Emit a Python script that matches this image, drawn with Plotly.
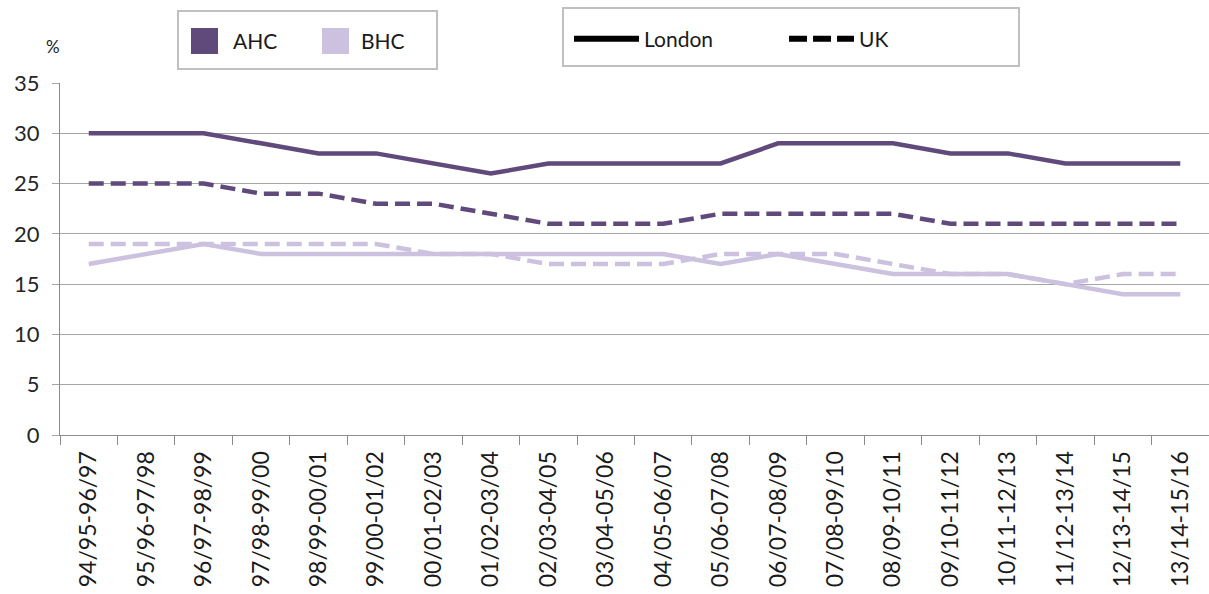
import plotly.graph_objects as go

periods = [
    "94/95-96/97", "95/96-97/98", "96/97-98/99", "97/98-99/00", "98/99-00/01",
    "99/00-01/02", "00/01-02/03", "01/02-03/04", "02/03-04/05", "03/04-05/06",
    "04/05-06/07", "05/06-07/08", "06/07-08/09", "07/08-09/10", "08/09-10/11",
    "09/10-11/12", "10/11-12/13", "11/12-13/14", "12/13-14/15", "13/14-15/16",
]
london_ahc = [30, 30, 30, 29, 28, 28, 27, 26, 27, 27, 27, 27, 29, 29, 29, 28, 28, 27, 27, 27]
uk_ahc = [25, 25, 25, 24, 24, 23, 23, 22, 21, 21, 21, 22, 22, 22, 22, 21, 21, 21, 21, 21]
london_bhc = [17, 18, 19, 18, 18, 18, 18, 18, 18, 18, 18, 17, 18, 17, 16, 16, 16, 15, 14, 14]
uk_bhc = [19, 19, 19, 19, 19, 19, 18, 18, 17, 17, 17, 18, 18, 18, 17, 16, 16, 15, 16, 16]

measures = ["AHC", "BHC"]
places = ["London", "UK"]

AHC_COLOR = "#604a7b"
BHC_COLOR = "#ccc1de"
TEXT_COLOR = "#1a1a1a"
FONT = "Lato, 'Open Sans', sans-serif"
DATA_DASH = "15px,7px"

W, H = 1209, 594
ML, MR, MT, MB = 60, 0, 83, 159
PW, PH = W - ML - MR, H - MT - MB


def px(x):
    """Horizontal pixel position -> paper coordinate."""
    return (x - ML) / PW


def py(y):
    """Vertical pixel position (from top) -> paper coordinate."""
    return (H - MB - y) / PH


fig = go.Figure()

series = [
    (uk_bhc, BHC_COLOR, DATA_DASH),
    (london_bhc, BHC_COLOR, "solid"),
    (uk_ahc, AHC_COLOR, DATA_DASH),
    (london_ahc, AHC_COLOR, "solid"),
]
for vals, color, dash in series:
    fig.add_trace(go.Scatter(
        x=periods, y=vals, mode="lines",
        line=dict(color=color, width=4.5, dash=dash),
        showlegend=False, hoverinfo="skip",
    ))

# Line-style key (London / UK)
for name, dash in zip(places, ["solid", "18px,6px"]):
    fig.add_trace(go.Scatter(
        x=[None], y=[None], mode="lines", name=name,
        line=dict(color="black", width=6, dash=dash),
    ))

BOX = dict(type="rect", xref="paper", yref="paper",
           line=dict(color="#c0c0c0", width=2), fillcolor="white", layer="below")
shapes = [
    dict(BOX, x0=px(178), x1=px(437), y0=py(69), y1=py(11)),
    dict(BOX, x0=px(563), x1=px(1019), y0=py(66), y1=py(8)),
]
annotations = []
# Colour key (AHC / BHC): swatch + label
for name, color, sx, tx in zip(measures, [AHC_COLOR, BHC_COLOR], [191, 322], [231, 359]):
    shapes.append(dict(type="rect", xref="paper", yref="paper",
                       x0=px(sx), x1=px(sx + 27), y0=py(54), y1=py(28),
                       fillcolor=color, line=dict(width=0)))
    annotations.append(dict(
        text=name, xref="paper", yref="paper", x=px(tx), y=py(41),
        xanchor="left", yanchor="middle", showarrow=False,
        font=dict(family=FONT, size=21, color=TEXT_COLOR),
    ))

annotations.append(dict(
    text="%", xref="paper", yref="paper", x=px(62), y=py(59),
    xanchor="right", yanchor="bottom", showarrow=False,
    font=dict(family=FONT, size=17, color=TEXT_COLOR),
))

fig.update_layout(
    width=W, height=H,
    margin=dict(l=ML, r=MR, t=MT, b=MB),
    paper_bgcolor="white", plot_bgcolor="white",
    font=dict(family=FONT, color=TEXT_COLOR),
    showlegend=True,
    legend=dict(
        orientation="h",
        xref="container", yref="container",
        x=569 / W, y=1 - 39 / H, xanchor="left", yanchor="middle",
        bgcolor="rgba(0,0,0,0)", borderwidth=0,
        entrywidth=135, itemwidth=65,
        font=dict(family=FONT, size=21, color=TEXT_COLOR),
    ),
    shapes=shapes,
    annotations=annotations,
    xaxis=dict(
        type="category", range=[-0.5, len(periods) - 0.5],
        tickangle=-90, tickson="boundaries",
        ticks="outside", ticklen=9, tickcolor="#8c8c8c",
        ticklabelstandoff=6,
        showline=True, linecolor="#8c8c8c", linewidth=1,
        showgrid=False,
        tickfont=dict(family=FONT, size=23, color=TEXT_COLOR),
    ),
    yaxis=dict(
        range=[0, 35], dtick=5,
        showgrid=True, gridcolor="#a6a6a6", gridwidth=1,
        showline=True, linecolor="#8c8c8c", linewidth=1,
        ticks="outside", ticklen=7, tickcolor="#a6a6a6",
        ticklabelstandoff=8,
        zeroline=False,
        tickfont=dict(family=FONT, size=22, color="#262626"),
    ),
)

fig.write_html("out.html")
